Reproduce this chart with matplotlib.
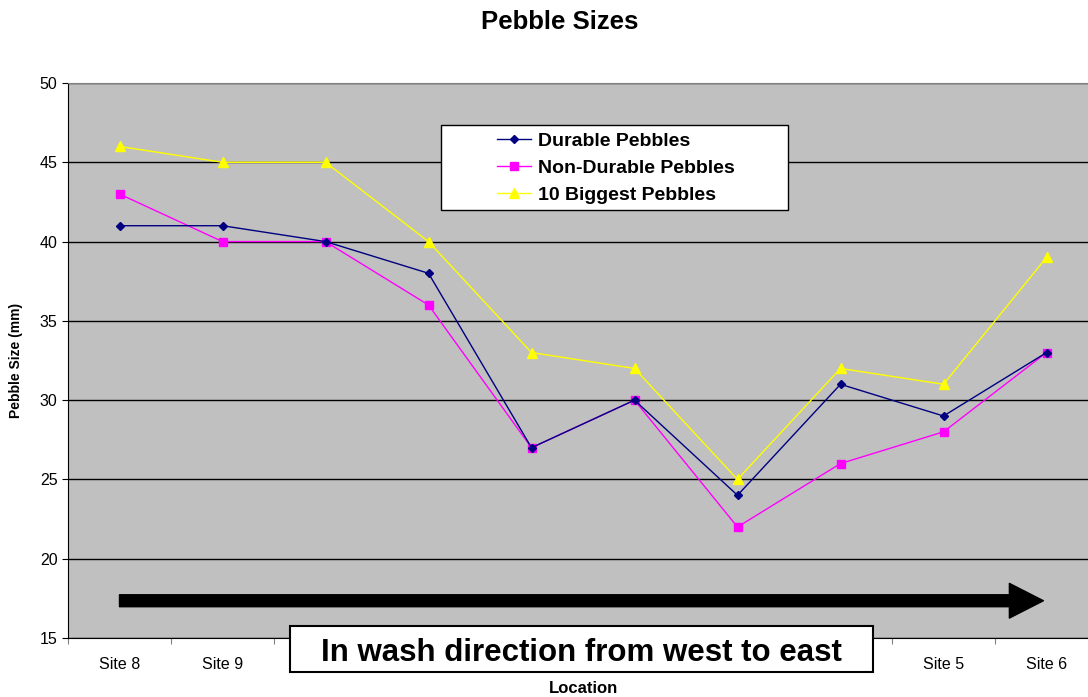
import matplotlib
matplotlib.use("Agg")
import matplotlib.pyplot as plt
from matplotlib.patches import Rectangle

plt.rcParams["font.family"] = ["Liberation Sans", "DejaVu Sans"]

# Data; six site names are hidden behind the caption box
sites = ["Site 8", "Site 9", "", "", "", "", "", "", "Site 5", "Site 6"]
durable = [41, 41, 40, 38, 27, 30, 24, 31, 29, 33]
non_durable = [43, 40, 40, 36, 27, 30, 22, 26, 28, 33]
biggest = [46, 45, 45, 40, 33, 32, 25, 32, 31, 39]
y_ticks = [15, 20, 25, 30, 35, 40, 45, 50]

fig = plt.figure(figsize=(10.88, 6.97), dpi=100)
ax = fig.add_axes([68 / 1088, 59 / 697, 1030 / 1088, 555 / 697])
ax.set_facecolor("#C0C0C0")

x = range(len(sites))
ax.plot(x, durable, color="#000080", marker="D", markersize=4.5, linewidth=1,
        label="Durable Pebbles", zorder=4)
ax.plot(x, non_durable, color="#FF00FF", marker="s", markersize=6, linewidth=1,
        label="Non-Durable Pebbles", zorder=3)
ax.plot(x, biggest, color="#FFFF00", marker="^", markersize=7, linewidth=1,
        label="10 Biggest Pebbles", zorder=2)

ax.set_xlim(-0.5, len(sites) - 0.5)
ax.set_ylim(15, 50)
ax.set_yticks(y_ticks)
ax.yaxis.grid(True, color="black", linewidth=1)
ax.set_axisbelow(True)

# category ticks sit between sites, labels centred under each site
ax.set_xticks([i - 0.5 for i in range(len(sites) + 1)])
ax.set_xticklabels([])
ax.set_xticks(list(x), minor=True)
ax.set_xticklabels(sites, minor=True, fontsize=11.5)
ax.tick_params(axis="x", which="minor", length=0, pad=14)
ax.tick_params(axis="x", which="major", length=4, color="#808080", direction="out")
ax.tick_params(axis="y", length=4, direction="out", labelsize=11.5)

for side in ["top", "right"]:
    ax.spines[side].set_color("#808080")
for side in ["left", "bottom"]:
    ax.spines[side].set_color("black")

ax.set_ylabel("Pebble Size (mm)", fontsize=10, fontweight="bold", labelpad=12)
ax.set_xlabel("Location", fontsize=12, fontweight="bold", labelpad=6)
fig.text(560 / 1088, 1 - 22 / 697, "Pebble Sizes", ha="center", va="center",
         fontsize=18.5, fontweight="bold")

# legend: white box drawn separately so the entries can sit inset like the original
ax.add_patch(Rectangle(((441 - 68) / 1030, (638 - 210) / 555), 347 / 1030, 85 / 555,
                       transform=ax.transAxes, facecolor="white", edgecolor="black",
                       linewidth=1, zorder=6))
leg = ax.legend(loc="upper left", bbox_to_anchor=((493 - 68) / 1030, (638 - 128) / 555),
                borderaxespad=0, frameon=False, prop={"size": 14, "weight": "bold"},
                handlelength=1.75, handletextpad=0.35, labelspacing=0.5,
                borderpad=0.2)
leg.set_zorder(7)

# big direction arrow
ax.annotate("", xy=(8.97, 17.35), xytext=(0, 17.35),
            arrowprops=dict(arrowstyle="simple,head_length=2.45,head_width=2.5,tail_width=0.86",
                            mutation_scale=10, color="black", shrinkA=0, shrinkB=0),
            zorder=5)

# caption box over the hidden labels
fig.patches.append(Rectangle((290 / 1088, 25 / 697), 583 / 1088, 46 / 697,
                             transform=fig.transFigure, facecolor="white",
                             edgecolor="black", linewidth=1.5, zorder=10))
fig.text(581 / 1088, 1 - 653 / 697, "In wash direction from west to east",
         ha="center", va="center", fontsize=22.5, fontweight="bold", zorder=11)

fig.savefig("out.png", dpi=100)
